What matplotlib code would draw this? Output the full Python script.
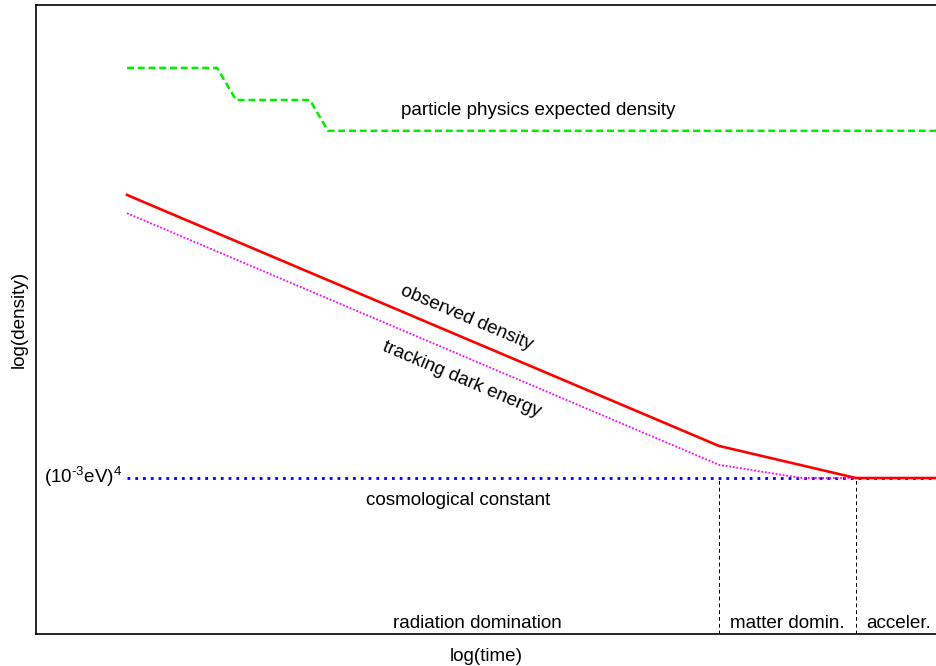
import matplotlib
matplotlib.use("Agg")
import matplotlib.pyplot as plt

plt.rcParams['font.family'] = ['Liberation Sans', 'DejaVu Sans']
plt.rcParams['axes.unicode_minus'] = False

# log(time) / log(density) in arbitrary units
particle_x = [1.01, 2.01, 2.22, 3.04, 3.24, 10.0]
particle_y = [9.00, 9.00, 8.49, 8.49, 8.00, 8.00]

observed_x = [1.01, 7.58, 9.10, 10.0]
observed_y = [6.98, 2.99, 2.48, 2.48]

tracking_x = [1.01, 7.58, 8.50, 10.0]
tracking_y = [6.69, 2.69, 2.48, 2.48]

cosmo_x = [1.01, 10.0]
cosmo_y = [2.48, 2.48]

era_bounds = [7.58, 9.10]
era_labels = ["radiation domination", "matter domin.", "acceler."]
era_label_x = [4.90, 8.34, 9.58]

fig = plt.figure(figsize=(9.37, 6.66), dpi=100)
ax = fig.add_axes([36/937, (666-634)/666, (937-36)/937, (634-5)/666])
ax.set_xlim(0, 10)
ax.set_ylim(0, 10)

ax.plot(particle_x, particle_y, color='#00ee00', lw=1.8, ls=(0, (2.8, 1.5)))
ax.plot(cosmo_x, cosmo_y, color='#0000ee', lw=2.0, ls=(0, (1, 1.8)))
ax.plot(tracking_x, tracking_y, color='#ff00ff', lw=1.3, ls=(0, (1, 1)))
ax.plot(observed_x, observed_y, color='#ff0000', lw=1.9)

for xb in era_bounds:
    ax.plot([xb, xb], [0, 2.48], color='black', lw=0.7, ls=(0, (4, 3)))

fs = 13.6
ax.text(5.57, 8.33, "particle physics expected density", ha='center', va='center', fontsize=fs)
ax.text(4.78, 5.03, "observed density", ha='center', va='center', fontsize=fs, rotation=-23,
        rotation_mode='anchor')
ax.text(4.73, 4.05, "tracking dark energy", ha='center', va='center', fontsize=fs, rotation=-23,
        rotation_mode='anchor')
ax.text(4.68, 2.12, "cosmological constant", ha='center', va='center', fontsize=fs)
for lx, lab in zip(era_label_x, era_labels):
    ax.text(lx, 0.17, lab, ha='center', va='center', fontsize=fs)
ax.text(0.96, 2.50, "(10$^{\\mathregular{\u20103}}$eV)$^{\\mathregular{4}}$", ha='right', va='center', fontsize=fs)

ax.set_xticks([])
ax.set_yticks([])
ax.spines['right'].set_visible(False)
for s in ['left', 'top', 'bottom']:
    ax.spines[s].set_linewidth(1.2)
ax.set_xlabel("log(time)", fontsize=fs, labelpad=10)
ax.set_ylabel("log(density)", fontsize=fs, labelpad=6)

fig.savefig("out.png", dpi=100)
